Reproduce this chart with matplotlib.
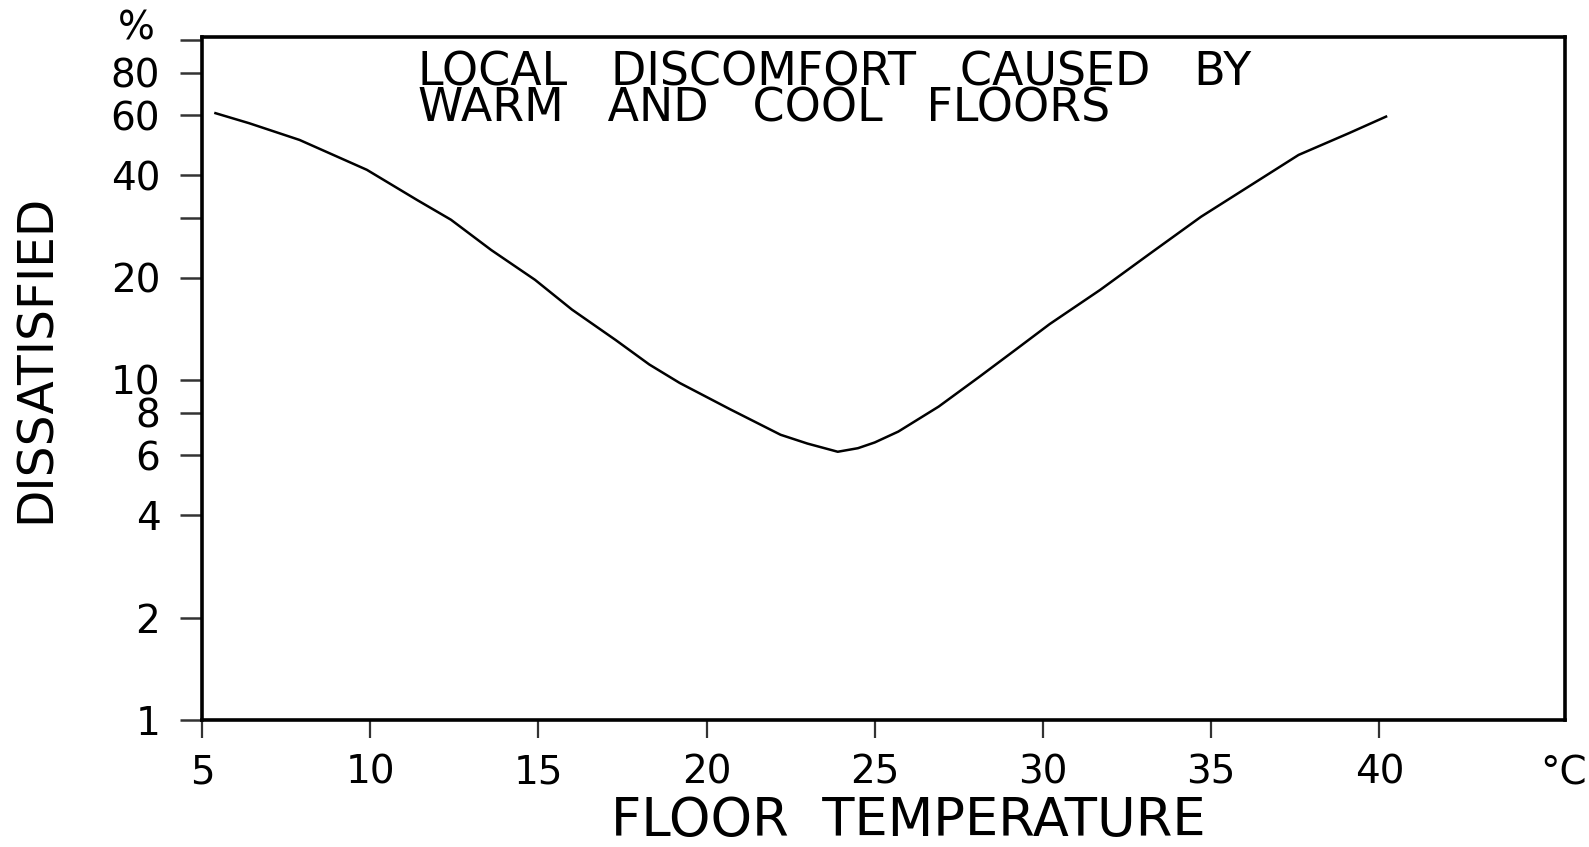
import matplotlib
matplotlib.use("Agg")
import matplotlib.pyplot as plt

# Data
floor_temp = [5.4, 6.4, 7.9, 9.9, 11.4, 12.4, 13.6, 14.9, 16.0, 17.3, 18.3,
              19.2, 20.7, 22.2, 23.0, 23.9, 24.5, 25.0, 25.7, 26.9, 28.1,
              29.2, 30.2, 31.7, 33.2, 34.7, 36.2, 37.6, 39.1, 40.2]
dissatisfied = [60.9, 56.9, 50.8, 41.5, 33.8, 29.6, 24.1, 19.7, 16.1, 13.1, 11.1,
                9.8, 8.2, 6.9, 6.5, 6.15, 6.3, 6.55, 7.05, 8.35, 10.2,
                12.3, 14.6, 18.4, 23.6, 30.2, 37.5, 45.9, 53.2, 59.5]

x_ticks = [5, 10, 15, 20, 25, 30, 35, 40]
x_tick_labels = ["5", "10", "15", "20", "25", "30", "35", "40"]
y_ticks = [1, 2, 4, 6, 8, 10, 20, 30, 40, 60, 80, 100]
y_tick_labels = ["1", "2", "4", "6", "8", "10", "20", "", "40", "60", "80", ""]

title_text = "LOCAL   DISCOMFORT   CAUSED   BY\nWARM   AND   COOL   FLOORS"

plt.rcParams['font.family'] = ['DejaVu Sans']

W, H = 1589, 847
fig = plt.figure(figsize=(W / 100, H / 100), dpi=100)
ax = fig.add_axes([202 / W, 1 - 720 / H, (1565 - 202) / W, (720 - 37) / H])

ax.plot(floor_temp, dissatisfied, color="black", linewidth=1.8,
        solid_joinstyle="round")

ax.set_yscale("log")
ax.set_xlim(5, 45.52)
ax.set_ylim(1, 102)
ax.minorticks_off()
ax.set_yticks(y_ticks)
ax.set_yticklabels(y_tick_labels)
ax.set_xticks(x_ticks)
ax.set_xticklabels(x_tick_labels)
ax.yaxis.set_minor_locator(matplotlib.ticker.NullLocator())

for s in ax.spines.values():
    s.set_linewidth(2.6)
    s.set_color("black")

ax.tick_params(axis="y", direction="out", length=16, width=1.8, color="#333333",
               labelsize=28, pad=14)
ax.tick_params(axis="x", direction="out", length=13, width=1.6, color="#333333",
               labelsize=28, pad=11)

ax.set_xlabel("FLOOR  TEMPERATURE", fontsize=38)
ax.xaxis.label.set_va("center")
ax.xaxis.set_label_coords((908 - 202) / (1565 - 202), -(821 - 720) / (720 - 37))
ax.set_ylabel("DISSATISFIED", fontsize=35)
ax.yaxis.label.set_va("center")
ax.yaxis.set_label_coords(-(202 - 36) / (1565 - 202), (720 - 358) / (720 - 37))

fig.text(136 / W, 1 - 28 / H, "%", fontsize=28, ha="center", va="center")
fig.text(1587 / W, 1 - 773 / H, "°C", fontsize=28, ha="right", va="center")

fig.text(418 / W, 1 - 91 / H, title_text, fontsize=33, ha="left", va="center",
         linespacing=0.76)

fig.savefig("out.png", dpi=100, facecolor="white")
